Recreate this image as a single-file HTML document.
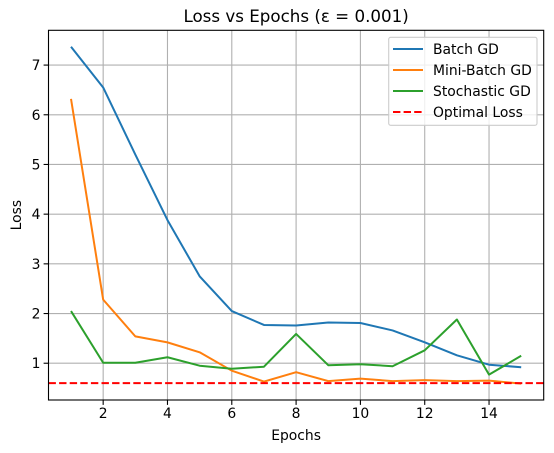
<!DOCTYPE html>
<html><head><meta charset="utf-8"><style>body{margin:0;background:#fff}svg{display:block;font-family:"DejaVu Sans","Liberation Sans",sans-serif}</style></head>
<body>
<svg id="c" width="554" height="453" xmlns="http://www.w3.org/2000/svg"></svg>
<script>
const epochs=[1,2,3,4,5,6,7,8,9,10,11,12,13,14,15];
const batchGD=[7.37,6.55,5.2,3.88,2.75,2.05,1.77,1.76,1.82,1.81,1.66,1.42,1.16,0.97,0.92];
const miniBatchGD=[6.32,2.28,1.54,1.42,1.22,0.85,0.63,0.82,0.64,0.69,0.64,0.66,0.64,0.65,0.59];
const stochasticGD=[2.05,1.01,1.01,1.12,0.95,0.89,0.93,1.59,0.96,0.98,0.94,1.26,1.88,0.77,1.15];
const optimalLoss=0.6;
const xTicks=[2,4,6,8,10,12,14];
const yTicks=[1,2,3,4,5,6,7];
const L=48.5,R=543.7,T=30.3,B=400;
const xMin=0.3,xMax=15.7,yMin=0.26,yMax=7.7;
const xs=v=>L+(v-xMin)/(xMax-xMin)*(R-L);
const ys=v=>B-(v-yMin)/(yMax-yMin)*(B-T);
const svg=document.getElementById('c');const NS='http://www.w3.org/2000/svg';
function mk(t,a,p){const e=document.createElementNS(NS,t);for(const k in a)e.setAttribute(k,a[k]);(p||svg).appendChild(e);return e;}
const grid=mk('g',{});


xTicks.forEach(t=>{const x=xs(t);
mk('line',{x1:x,x2:x,y1:T,y2:B,stroke:'#b0b0b0','stroke-width':1.1},grid);
mk('line',{x1:x,x2:x,y1:B,y2:B+4.9,stroke:'#000','stroke-width':1.1});
const tx=mk('text',{x:x,y:B+18,'text-anchor':'middle','font-size':'13.9px',fill:'#000'});tx.textContent=t;

});
yTicks.forEach(t=>{const y=ys(t);
mk('line',{x1:L,x2:R,y1:y,y2:y,stroke:'#b0b0b0','stroke-width':1.1},grid);
mk('line',{x1:L-4.9,x2:L,y1:y,y2:y,stroke:'#000','stroke-width':1.1});
const tx=mk('text',{x:L-8,y:y+5,'text-anchor':'end','font-size':'13.9px',fill:'#000'});tx.textContent=t;

});
function series(d,c,name){const p=mk('polyline',{points:d.map((v,i)=>xs(epochs[i])+','+ys(v)).join(' '),fill:'none',stroke:c,'stroke-width':2,'stroke-linejoin':'round'});

}
series(batchGD,'#1f77b4','batch-gd-line');
series(miniBatchGD,'#ff7f0e','mini-batch-gd-line');
series(stochasticGD,'#2ca02c','stochastic-gd-line');
const ol=mk('line',{x1:L,x2:R,y1:ys(optimalLoss),y2:ys(optimalLoss),stroke:'#ff0000','stroke-width':2,'stroke-dasharray':'7.4,3.2'});


const fr=mk('rect',{x:L,y:T,width:R-L,height:B-T,fill:'none',stroke:'#000','stroke-width':1.1});


const ti=mk('text',{x:(L+R)/2,y:22,'text-anchor':'middle','font-size':'16.7px',fill:'#000'});ti.textContent='Loss vs Epochs (ε = 0.001)';


const xl=mk('text',{x:(L+R)/2,y:440,'text-anchor':'middle','font-size':'13.9px',fill:'#000'});xl.textContent='Epochs';


const yl=mk('text',{x:0,y:0,'text-anchor':'middle','font-size':'13.9px',fill:'#000',transform:'translate(21,'+((T+B)/2)+') rotate(-90)'});yl.textContent='Loss';


const lg=mk('g',{});


mk('rect',{x:388.7,y:37.3,width:148.3,height:88,rx:2,fill:'#fff','fill-opacity':0.8,stroke:'#cccccc','stroke-width':1.1},lg);
const items=[['Batch GD','#1f77b4',''],['Mini-Batch GD','#ff7f0e',''],['Stochastic GD','#2ca02c',''],['Optimal Loss','#ff0000','7.4,3.2']];
items.forEach((it,i)=>{const y=49+i*21;
const g=mk('g',{},lg);


const a={x1:393,x2:423,y1:y,y2:y,stroke:it[1],'stroke-width':2};if(it[2])a['stroke-dasharray']=it[2];mk('line',a,g);
const t=mk('text',{x:433,y:y+5,'font-size':'13.9px',fill:'#000'},g);t.textContent=it[0];});
</script>
</body></html>
